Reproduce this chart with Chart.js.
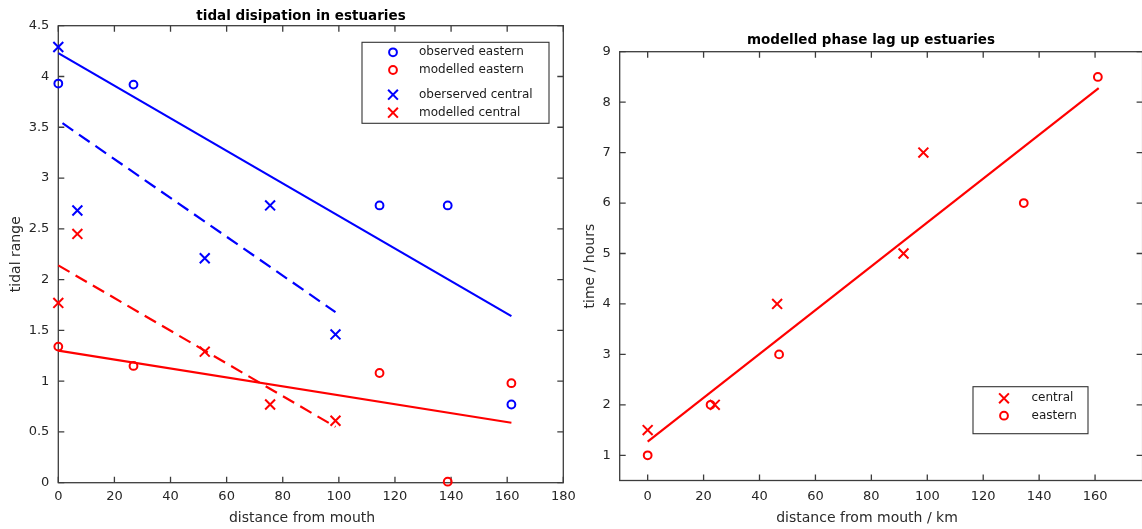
<!DOCTYPE html>
<html>
<head>
<meta charset="utf-8">
<script src="https://cdn.jsdelivr.net/npm/chart.js@4/dist/chart.umd.min.js"></script>
<style>
html, body { margin: 0; padding: 0; overflow: hidden; background: #fff; }
#tidal { position: absolute; left: 0; top: 0; }
#lag { position: absolute; left: 570px; top: 0; }
</style>
</head>
<body>
<canvas id="tidal" width="600" height="529"></canvas>
<canvas id="lag" width="600" height="529"></canvas>
<script>
"use strict";

// left plot: tidal range vs distance
const eastDist = [0, 26.8, 114.5, 138.8, 161.5];
const eastObserved = [3.93, 3.92, 2.73, 2.73, 0.77];
const eastModelled = [1.34, 1.15, 1.08, 0.01, 0.98];
const centralDist = [0, 6.8, 52.2, 75.5, 98.8];
const centralObserved = [4.29, 2.68, 2.21, 2.73, 1.46];
const centralModelled = [1.77, 2.45, 1.29, 0.77, 0.61];

// fitted lines, end points
const eastFitDist = [0, 161.5];
const eastObservedFit = [4.23, 1.64];
const eastModelledFit = [1.30, 0.59];
const centralObsFitDist = [1.5, 98.8];
const centralObservedFit = [3.54, 1.68];
const centralModFitDist = [0, 98.8];
const centralModelledFit = [2.14, 0.55];

const tidalXTicks = [0, 20, 40, 60, 80, 100, 120, 140, 160, 180];
const tidalYTicks = [0, 0.5, 1, 1.5, 2, 2.5, 3, 3.5, 4, 4.5];

// right plot: phase lag
const lagCentralDist = [0, 24, 46.3, 91.5, 98.6];
const lagCentral = [1.5, 2, 4, 5, 7];
const lagEastDist = [0, 22.5, 47, 134.5, 161];
const lagEast = [1, 2, 3, 6, 8.5];
const lagFitDist = [0, 161.3];
const lagFit = [1.27, 8.28];

const lagXTicks = [0, 20, 40, 60, 80, 100, 120, 140, 160];
const lagYTicks = [1, 2, 3, 4, 5, 6, 7, 8, 9];

const BLUE = "#0000ff";
const RED = "#ff0000";
const FONT = "DejaVu Sans";

function pts(xs, ys) {
    return xs.map((x, i) => ({ x: x, y: ys[i] }));
}

function markers(label, xs, ys, color, style) {
    return {
        label: label,
        data: pts(xs, ys),
        borderColor: color,
        backgroundColor: "rgba(0,0,0,0)",
        pointStyle: style,
        pointRadius: style == "circle" ? 3.9 : 7,
        pointBorderWidth: 2,
        showLine: false,
        clip: false
    };
}

function fitLine(xs, ys, color, dashed) {
    return {
        data: pts(xs, ys),
        borderColor: color,
        borderWidth: 2.2,
        borderDash: dashed ? [13, 7] : [],
        pointRadius: 0,
        showLine: true,
        clip: false,
        noLegend: true
    };
}

function drawMarker(ctx, style, x, y) {
    ctx.beginPath();
    if (style == "circle") {
        ctx.arc(x, y, 3.9, 0, Math.PI * 2);
    } else {
        let d = 4.9;
        ctx.moveTo(x - d, y - d); ctx.lineTo(x + d, y + d);
        ctx.moveTo(x - d, y + d); ctx.lineTo(x + d, y - d);
    }
    ctx.stroke();
}

// matlab looking frame: box, inward ticks, titles, legend
const matlabFrame = {
    id: "matlabFrame",
    beforeDatasetsDraw(chart, args, opts) {
        const ctx = chart.ctx;
        const a = chart.chartArea;
        const sx = chart.scales.x, sy = chart.scales.y;
        ctx.save();
        ctx.strokeStyle = "#3c3c3c";
        ctx.lineWidth = 1.3;
        ctx.strokeRect(a.left, a.top, a.right - a.left, a.bottom - a.top);
        ctx.beginPath();
        sx.ticks.forEach(t => {
            let px = sx.getPixelForValue(t.value);
            ctx.moveTo(px, a.bottom); ctx.lineTo(px, a.bottom - 6);
            ctx.moveTo(px, a.top); ctx.lineTo(px, a.top + 6);
        });
        sy.ticks.forEach(t => {
            let py = sy.getPixelForValue(t.value);
            ctx.moveTo(a.left, py); ctx.lineTo(a.left + 6, py);
            ctx.moveTo(a.right, py); ctx.lineTo(a.right - 6, py);
        });
        ctx.stroke();

        ctx.textAlign = "center";
        ctx.textBaseline = "alphabetic";
        ctx.fillStyle = "#000";
        ctx.font = "bold 13.5px '" + FONT + "'";
        ctx.fillText(opts.title, opts.titleX, opts.titleY);
        ctx.fillStyle = "#2a2a2a";
        ctx.font = "14px '" + FONT + "'";
        ctx.fillText(opts.xTitle, opts.xTitleX, opts.xTitleY);
        ctx.translate(opts.yTitleX, (a.top + a.bottom) / 2);
        ctx.rotate(-Math.PI / 2);
        ctx.textBaseline = "middle";
        ctx.fillText(opts.yTitle, 0, 0);
        ctx.restore();
    },
    afterDatasetsDraw(chart, args, opts) {
        const ctx = chart.ctx;
        const lg = opts.legend;
        ctx.save();
        ctx.fillStyle = "#fff";
        ctx.fillRect(lg.left, lg.top, lg.width, lg.height);
        ctx.strokeStyle = "#333";
        ctx.lineWidth = 1.1;
        ctx.strokeRect(lg.left, lg.top, lg.width, lg.height);
        ctx.font = "12px '" + FONT + "'";
        ctx.textBaseline = "middle";
        ctx.textAlign = "left";
        let items = chart.data.datasets.filter(d => !d.noLegend);
        items.forEach((ds, i) => {
            let y = lg.rows[i];
            ctx.strokeStyle = ds.borderColor;
            ctx.lineWidth = 2;
            drawMarker(ctx, ds.pointStyle, lg.markerX, y);
            ctx.fillStyle = "#1a1a1a";
            ctx.fillText(ds.label, lg.textX, y);
        });
        ctx.restore();
    }
};

function axis(min, max, tickList, fixed, pad, horizontal) {
    return {
        type: "linear",
        min: min,
        max: max,
        grid: { display: false, drawTicks: false },
        border: { display: false },
        ticks: {
            padding: pad,
            color: "#262626",
            autoSkip: false,
            maxRotation: 0,
            font: { family: FONT, size: 13 },
            callback: v => String(v)
        },
        afterBuildTicks: s => { s.ticks = tickList.map(v => ({ value: v })); },
        afterFit: s => {
            if (horizontal) s.height = fixed; else s.width = fixed;
            s.paddingLeft = 0; s.paddingRight = 0;
            s.paddingTop = 0; s.paddingBottom = 0;
        }
    };
}

const tidalChart = new Chart(document.getElementById("tidal"), {
    type: "scatter",
    data: {
        datasets: [
            markers("observed eastern", eastDist, eastObserved, BLUE, "circle"),
            markers("modelled eastern", eastDist, eastModelled, RED, "circle"),
            markers("oberserved central", centralDist, centralObserved, BLUE, "crossRot"),
            markers("modelled central", centralDist, centralModelled, RED, "crossRot"),
            fitLine(eastFitDist, eastObservedFit, BLUE, false),
            fitLine(centralObsFitDist, centralObservedFit, BLUE, true),
            fitLine(eastFitDist, eastModelledFit, RED, false),
            fitLine(centralModFitDist, centralModelledFit, RED, true)
        ]
    },
    options: {
        responsive: false,
        animation: false,
        events: [],
        layout: { padding: { left: 0, top: 25.7, right: 36.7, bottom: 0 } },
        scales: {
            x: axis(0, 180, tidalXTicks, 46.3, 6.5, true),
            y: axis(0, 4.5, tidalYTicks, 58.3, 9, false)
        },
        plugins: {
            legend: { display: false },
            tooltip: { enabled: false },
            matlabFrame: {
                title: "tidal disipation in estuaries",
                titleX: 301, titleY: 19.5,
                xTitle: "distance from mouth",
                xTitleX: 302, xTitleY: 522,
                yTitle: "tidal range",
                yTitleX: 16,
                legend: {
                    left: 362, top: 42.3, width: 187, height: 81,
                    markerX: 393, textX: 419,
                    rows: [52.3, 70, 94.7, 112.7]
                }
            }
        }
    },
    plugins: [matlabFrame]
});

const lagChart = new Chart(document.getElementById("lag"), {
    type: "scatter",
    data: {
        datasets: [
            markers("central", lagCentralDist, lagCentral, RED, "crossRot"),
            markers("eastern", lagEastDist, lagEast, RED, "circle"),
            fitLine(lagFitDist, lagFit, RED, false)
        ]
    },
    options: {
        responsive: false,
        animation: false,
        events: [],
        layout: { padding: { left: 0, top: 51.7, right: 27.4, bottom: 0 } },
        scales: {
            x: axis(-10, 177, lagXTicks, 48.5, 8.4, true),
            y: axis(0.5, 9, lagYTicks, 49.7, 9, false)
        },
        plugins: {
            legend: { display: false },
            tooltip: { enabled: false },
            matlabFrame: {
                title: "modelled phase lag up estuaries",
                titleX: 301, titleY: 44.3,
                xTitle: "distance from mouth / km",
                xTitleX: 297, xTitleY: 521.5,
                yTitle: "time / hours",
                yTitleX: 20,
                legend: {
                    left: 403, top: 386.7, width: 115, height: 47,
                    markerX: 434, textX: 461.5,
                    rows: [398.3, 415.7]
                }
            }
        }
    },
    plugins: [matlabFrame]
});
</script>
</body>
</html>
